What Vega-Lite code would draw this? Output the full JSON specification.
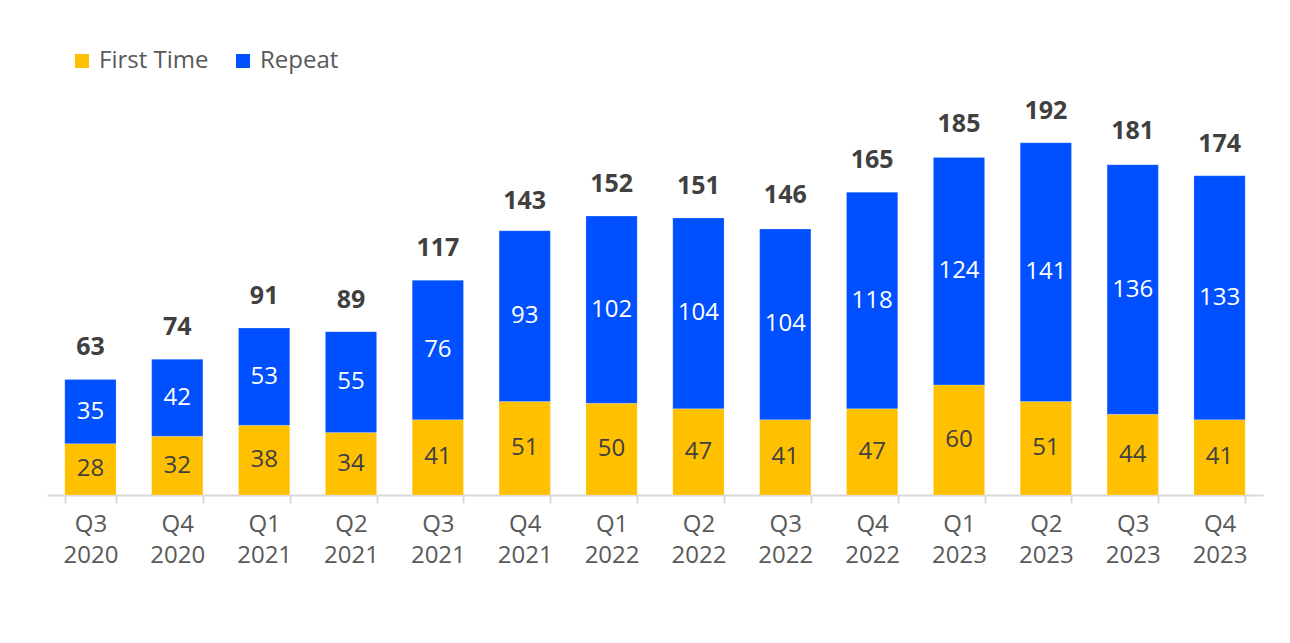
{
  "$schema": "https://vega.github.io/schema/vega-lite/v6.json",
  "width": 1216,
  "height": 422,
  "autosize": {"type": "none"},
  "padding": {"left": 47, "top": 73, "right": 27, "bottom": 148},
  "background": "white",
  "datasets": {
    "segs": [
      {"quarter": "Q3 2020", "series": "First Time", "ord": 1, "value": 28},
      {"quarter": "Q3 2020", "series": "Repeat", "ord": 2, "value": 35},
      {"quarter": "Q4 2020", "series": "First Time", "ord": 1, "value": 32},
      {"quarter": "Q4 2020", "series": "Repeat", "ord": 2, "value": 42},
      {"quarter": "Q1 2021", "series": "First Time", "ord": 1, "value": 38},
      {"quarter": "Q1 2021", "series": "Repeat", "ord": 2, "value": 53},
      {"quarter": "Q2 2021", "series": "First Time", "ord": 1, "value": 34},
      {"quarter": "Q2 2021", "series": "Repeat", "ord": 2, "value": 55},
      {"quarter": "Q3 2021", "series": "First Time", "ord": 1, "value": 41},
      {"quarter": "Q3 2021", "series": "Repeat", "ord": 2, "value": 76},
      {"quarter": "Q4 2021", "series": "First Time", "ord": 1, "value": 51},
      {"quarter": "Q4 2021", "series": "Repeat", "ord": 2, "value": 93},
      {"quarter": "Q1 2022", "series": "First Time", "ord": 1, "value": 50},
      {"quarter": "Q1 2022", "series": "Repeat", "ord": 2, "value": 102},
      {"quarter": "Q2 2022", "series": "First Time", "ord": 1, "value": 47},
      {"quarter": "Q2 2022", "series": "Repeat", "ord": 2, "value": 104},
      {"quarter": "Q3 2022", "series": "First Time", "ord": 1, "value": 41},
      {"quarter": "Q3 2022", "series": "Repeat", "ord": 2, "value": 104},
      {"quarter": "Q4 2022", "series": "First Time", "ord": 1, "value": 47},
      {"quarter": "Q4 2022", "series": "Repeat", "ord": 2, "value": 118},
      {"quarter": "Q1 2023", "series": "First Time", "ord": 1, "value": 60},
      {"quarter": "Q1 2023", "series": "Repeat", "ord": 2, "value": 124},
      {"quarter": "Q2 2023", "series": "First Time", "ord": 1, "value": 51},
      {"quarter": "Q2 2023", "series": "Repeat", "ord": 2, "value": 141},
      {"quarter": "Q3 2023", "series": "First Time", "ord": 1, "value": 44},
      {"quarter": "Q3 2023", "series": "Repeat", "ord": 2, "value": 136},
      {"quarter": "Q4 2023", "series": "First Time", "ord": 1, "value": 41},
      {"quarter": "Q4 2023", "series": "Repeat", "ord": 2, "value": 133}
    ],
    "totals": [
      {"quarter": "Q3 2020", "total": 63},
      {"quarter": "Q4 2020", "total": 74},
      {"quarter": "Q1 2021", "total": 91},
      {"quarter": "Q2 2021", "total": 89},
      {"quarter": "Q3 2021", "total": 117},
      {"quarter": "Q4 2021", "total": 143},
      {"quarter": "Q1 2022", "total": 152},
      {"quarter": "Q2 2022", "total": 151},
      {"quarter": "Q3 2022", "total": 146},
      {"quarter": "Q4 2022", "total": 165},
      {"quarter": "Q1 2023", "total": 185},
      {"quarter": "Q2 2023", "total": 192},
      {"quarter": "Q3 2023", "total": 181},
      {"quarter": "Q4 2023", "total": 174}
    ]
  },
  "encoding": {
    "x": {
      "field": "quarter",
      "type": "nominal",
      "sort": null,
      "scale": {"paddingInner": 0.41, "paddingOuter": 0.205},
      "axis": {
        "title": null,
        "labelAngle": 0,
        "labelExpr": "split(datum.label, ' ')",
        "labelFont": "Open Sans",
        "labelFontSize": 24,
        "labelColor": "#595959",
        "labelLineHeight": 31,
        "labelPadding": 9,
        "labelBaseline": "top",
        "tickBand": "extent",
        "tickSize": 8,
        "tickColor": "#d9d9d9",
        "tickWidth": 2,
        "domainColor": "#d9d9d9",
        "domainWidth": 2
      }
    }
  },
  "layer": [
    {
      "data": {"name": "segs"},
      "mark": {"type": "bar", "stroke": "white", "strokeWidth": 0.5, "strokeOpacity": 0.4},
      "encoding": {
        "y": {"field": "value", "type": "quantitative", "stack": "zero", "scale": {"domain": [0, 230], "nice": false, "zero": true}, "axis": null},
        "color": {
          "field": "series",
          "type": "nominal",
          "scale": {"domain": ["First Time", "Repeat"], "range": ["#FFC000", "#0050FF"]},
          "legend": {
            "title": null,
            "orient": "none",
            "direction": "horizontal",
            "legendX": 23,
            "legendY": -24,
            "padding": 0,
            "symbolType": "square",
            "symbolSize": 196,
            "symbolStrokeWidth": 0,
            "labelFont": "Open Sans",
            "labelFontSize": 24,
            "labelColor": "#595959",
            "labelOffset": 5,
            "columnPadding": 22
          }
        },
        "order": {"field": "ord", "type": "quantitative"}
      }
    },
    {
      "data": {"name": "segs"},
      "mark": {"type": "text", "font": "Open Sans", "fontSize": 24, "baseline": "middle"},
      "encoding": {
        "y": {"field": "value", "type": "quantitative", "stack": "zero", "bandPosition": 0.5},
        "text": {"field": "value", "type": "quantitative"},
        "detail": {"field": "series"},
        "order": {"field": "ord", "type": "quantitative"},
        "color": {"condition": {"test": "datum.series === 'Repeat'", "value": "white"}, "value": "#404040"}
      }
    },
    {
      "data": {"name": "totals"},
      "mark": {"type": "text", "font": "Open Sans", "fontSize": 25, "fontWeight": "bold", "color": "#404040", "baseline": "alphabetic", "dy": -24},
      "encoding": {
        "y": {"field": "total", "type": "quantitative"},
        "text": {"field": "total", "type": "quantitative"}
      }
    }
  ],
  "config": {"view": {"stroke": null}}
}
